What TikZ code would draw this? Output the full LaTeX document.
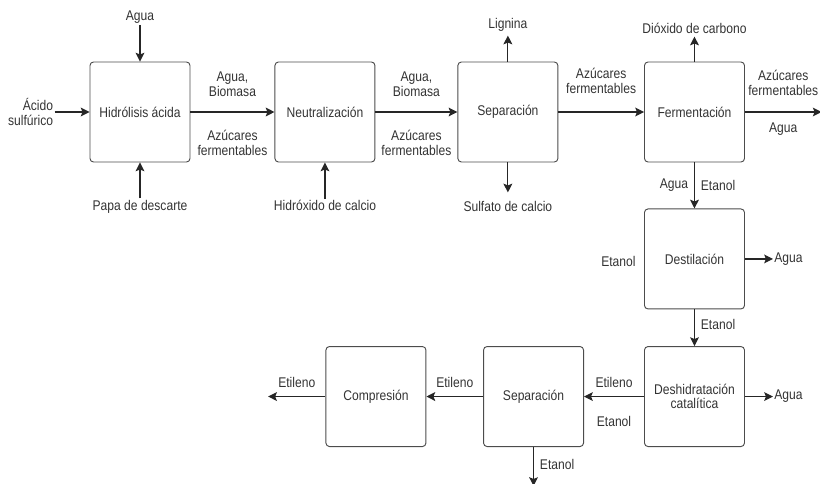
\documentclass[tikz,border=0pt]{standalone}
\usepackage{fontspec}
\setmainfont[FakeStretch=0.86]{Liberation Sans}
\usetikzlibrary{arrows.meta, positioning}
\newcommand{\lblfont}{\fontsize{12}{12.5}\selectfont}
\tikzset{
  proc/.style={rectangle, draw=black!70, rounded corners=3pt, line width=0.8pt,
               minimum width=3cm, minimum height=3cm,
               align=center, font=\lblfont, text=black!80},
  lbl/.style={align=center, font=\lblfont, inner sep=1pt, text=black!80},
  arr/.style={-{Stealth[length=7.5pt, width=7.5pt, inset=1.5pt]}, line width=1pt, black!85},
}

\begin{document}
\begin{tikzpicture}[node distance=2.55cm]

  \useasboundingbox (0,0) rectangle (24.6,-14.49);

  % top row
  \node[proc] (hidro) at (4.2,-3.36) {Hidrólisis ácida};
  \node[proc, right=2.52cm of hidro] (neutr) {Neutralización};
  \node[proc, right=2.46cm of neutr] (sep1) {Separación};
  \node[proc, right=2.57cm of sep1] (ferm) {Fermentación};

  % right column
  \node[proc, below=1.38cm of ferm] (dest) {Destilación};
  \node[proc, below=1.1cm of dest] (desh) {Deshidratación\\catalítica};

  % bottom row
  \node[proc, left=1.8cm of desh] (sep2) {Separación};
  \node[proc, left=1.7cm of sep2] (comp) {Compresión};

  % inputs
  \node[lbl, above=1.1cm of hidro] (aguain) {Agua};
  \node[lbl, left=1.05cm of hidro, align=right] (acido) {Ácido\\sulfúrico};
  \node[lbl, below=1.08cm of hidro] (papa) {Papa de descarte};
  \node[lbl, below=1.1cm of neutr] (hidrox) {Hidróxido de calcio};

  \draw[arr] (aguain) -- (hidro);
  \draw[arr] (acido) -- (hidro);
  \draw[arr] (papa) -- (hidro);
  \draw[arr] (hidrox) -- (neutr);

  % main line
  \draw[arr] (hidro) -- node[lbl, above=0.42cm] {Agua,\\Biomasa}
                        node[lbl, below=0.5cm] {Azúcares\\fermentables} (neutr);
  \draw[arr] (neutr) -- node[lbl, above=0.42cm] {Agua,\\Biomasa}
                        node[lbl, below=0.5cm] {Azúcares\\fermentables} (sep1);
  \draw[arr] (sep1) -- node[lbl, above=0.5cm] {Azúcares\\fermentables} (ferm);

  % outputs
  \coordinate (ligout) at ([yshift=0.78cm]sep1.north);
  \node[lbl, above=2pt of ligout] (lig) {Lignina};
  \draw[arr] (sep1) -- (ligout);

  \coordinate (sulfout) at ([yshift=-0.9cm]sep1.south);
  \node[lbl, below=6pt of sulfout] (sulf) {Sulfato de calcio};
  \draw[arr] (sep1) -- (sulfout);

  \coordinate (co2out) at ([yshift=0.75cm]ferm.north);
  \node[lbl, above=1pt of co2out] (co2) {Dióxido de carbono};
  \draw[arr] (ferm) -- (co2out);

  \coordinate (fermout) at ([xshift=2.3cm]ferm.east);
  \draw[arr] (ferm) -- node[lbl, above=0.45cm] {Azúcares\\fermentables}
                       node[lbl, below=0.28cm] {Agua} (fermout);

  \draw[arr] (ferm) -- node[lbl, left=4pt] {Agua}
                       node[lbl, right=4pt] {Etanol} (dest);

  \node[lbl, left=6pt of dest, yshift=-2pt] (etdest) {Etanol};
  \coordinate (destout) at ([xshift=0.84cm]dest.east);
  \node[lbl, right=0pt of destout] (aguadest) {Agua};
  \draw[arr] (dest) -- (destout);

  \draw[arr] (dest) -- node[lbl, right=4pt, yshift=3pt] {Etanol} (desh);

  \coordinate (deshout) at ([xshift=0.84cm]desh.east);
  \node[lbl, right=0pt of deshout] (aguadesh) {Agua};
  \draw[arr] (desh) -- (deshout);

  \draw[arr] (desh) -- node[lbl, above=0.2cm] {Etileno}
                       node[lbl, below=0.55cm] {Etanol} (sep2);
  \draw[arr] (sep2) -- node[lbl, above=0.2cm] {Etileno} (comp);

  \coordinate (sep2out) at ([yshift=-1.17cm]sep2.south);
  \draw[arr] (sep2) -- node[lbl, right=4pt, yshift=2pt] {Etanol} (sep2out);

  \coordinate (compout) at ([xshift=-1.72cm]comp.west);
  \draw[arr] (comp) -- node[lbl, above=0.2cm] {Etileno} (compout);

\end{tikzpicture}
\end{document}
